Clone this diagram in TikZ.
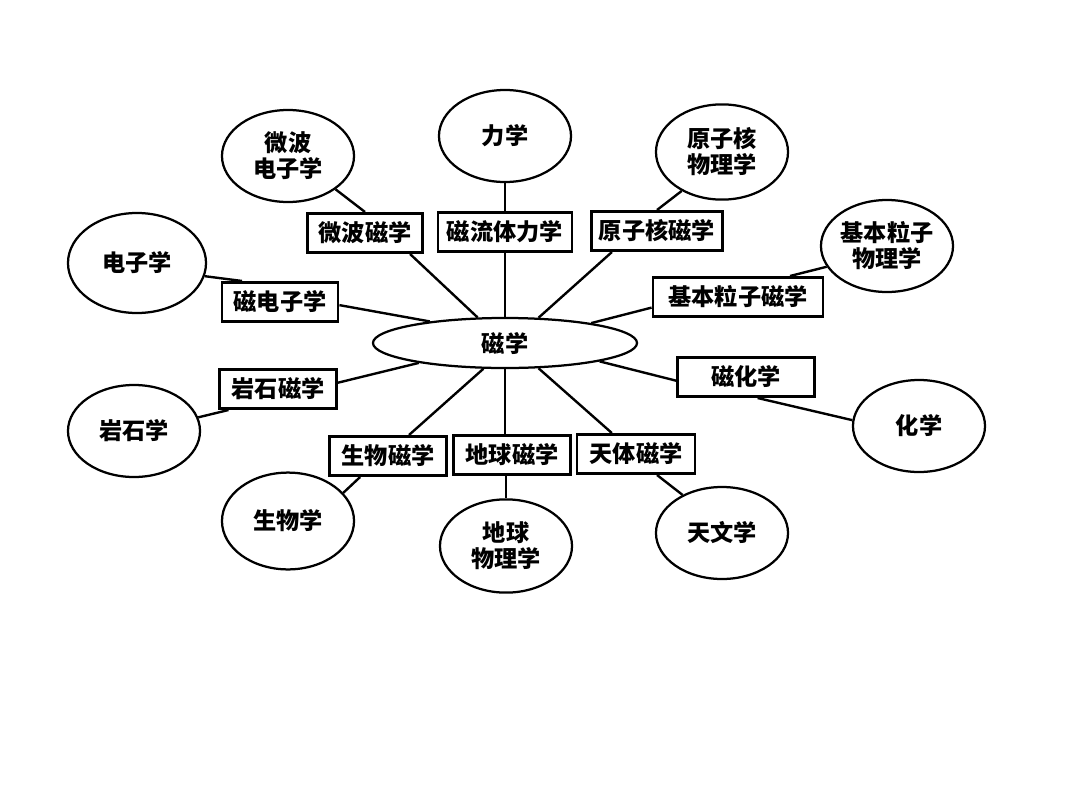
\documentclass[tikz,border=0pt]{standalone}
\usepackage{fontspec}
\newfontfamily\cjk{Noto Sans CJK SC}
\usepackage{tikz}
\usetikzlibrary{shapes.geometric}

\begin{document}
\begin{tikzpicture}[x=0.025cm, y=-0.025cm]
        \tikzset{field/.style = {shape=ellipse, draw, line width=1.6pt, inner sep=0pt,
                minimum width=3.3cm, minimum height=2.3cm, align=center,
                font=\cjk\bfseries\fontsize{16.5}{18.5}\selectfont}}
        \tikzset{branch/.style = {shape=rectangle, draw, line width=2pt, inner sep=0pt,
                minimum height=0.98cm, font=\cjk\bfseries\fontsize{16.5}{18.5}\selectfont}}
        \tikzset{link/.style = {line width=1.7pt}}
        \useasboundingbox (0,0) rectangle (1080,810);
        % centre
        \node[field, minimum width=6.6cm, minimum height=1.25cm] (mag) at (505,343) {磁学};
        % outer fields
        \node[field] (mwe) at (288,156) {微波\\电子学};
        \node[field, minimum height=2.3cm] (mech) at (505,136) {力学};
        \node[field, minimum height=2.38cm] (nuc) at (722,152) {原子核\\物理学};
        \node[field] (part) at (887,246) {基本粒子\\物理学};
        \node[field, minimum width=3.45cm, minimum height=2.5cm] (elec) at (137,263) {电子学};
        \node[field] (rock) at (134,431) {岩石学};
        \node[field, minimum height=2.42cm] (bio) at (288,521) {生物学};
        \node[field, minimum height=2.33cm] (geo) at (506,546) {地球\\物理学};
        \node[field] (astro) at (722,533) {天文学};
        \node[field] (chem) at (919,426) {化学};
        % branches
        \node[branch, minimum width=2.875cm] (mwb) at (365,233) {微波磁学};
        \node[branch, minimum width=3.35cm] (mhb) at (505,232) {磁流体力学};
        \node[branch, minimum width=3.275cm] (nucb) at (657,231) {原子核磁学};
        \node[branch, minimum width=4.25cm] (partb) at (738,297) {基本粒子磁学};
        \node[branch, minimum width=2.9cm] (elecb) at (280,302) {磁电子学};
        \node[branch, minimum width=2.925cm] (rockb) at (278,389) {岩石磁学};
        \node[branch, minimum width=3.425cm] (chemb) at (746,377) {磁化学};
        \node[branch, minimum width=2.925cm] (biob) at (388,456) {生物磁学};
        \node[branch, minimum width=2.925cm] (geob) at (512,455) {地球磁学};
        \node[branch, minimum width=2.95cm] (astrob) at (636,454) {天体磁学};
        %links
        \draw[link] (mag.137) to (mwb.-25);
        \draw[link] (mwb.north) to (mwe.-35);
        \draw[link] (mag.north) to (mhb.south);
        \draw[link] (mhb.north) to (mech.south);
        \draw[link] (mag.37) to (nucb.205);
        \draw[link] (nucb.north) to (nuc.224);
        \draw[link] (mag.13) to (partb.187);
        \draw[link] (partb.22) to (part.199);
        \draw[link] (mag.164) to (elecb.-3);
        \draw[link] (elecb.151) to (elec.-11);
        \draw[link] (mag.193) to (rockb.6);
        \draw[link] (rockb.203) to (rock.12);
        \draw[link] (mag.230) to (biob.45);
        \draw[link] (biob.217) to (bio.27);
        \draw[link] (mag.south) to (mag.south |- geob.north);
        \draw[link] (geo.north |- geob.south) to (geo.north);
        \draw[link] (mag.-37) to (astrob.139);
        \draw[link] (astrob.-45) to (astro.136);
        \draw[link] (mag.-11) to (chemb.183);
        \draw[link] (chemb.-61) to (chem.175);
    \end{tikzpicture}
\end{document}
